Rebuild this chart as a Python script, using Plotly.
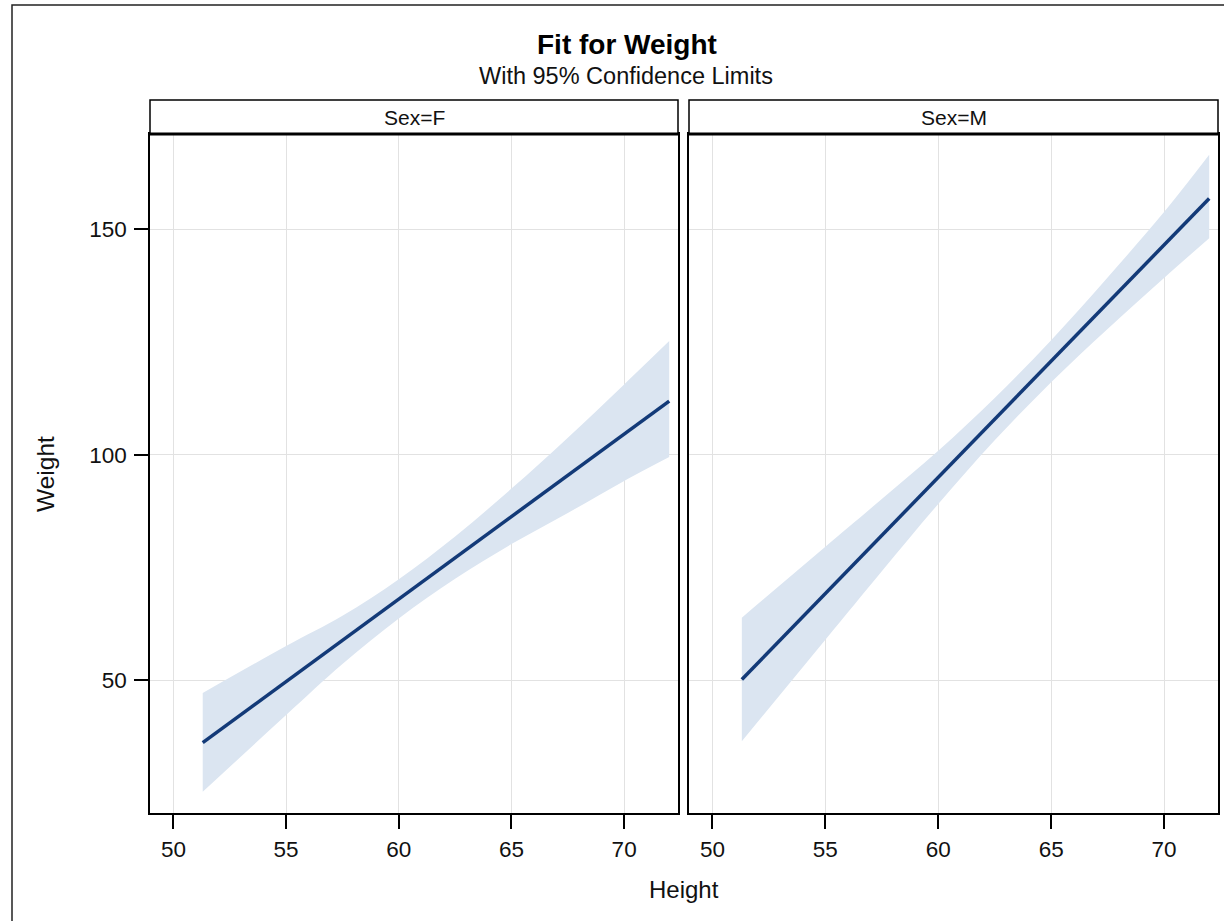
import plotly.graph_objects as go

# ---- data ----
heights = [51.3, 55, 57.5, 60, 62.5, 65, 67.5, 70, 72]

f_fit = [36.2, 49.7, 58.9, 68.0, 77.2, 86.3, 95.4, 104.6, 111.9]
f_lower = [25.3, 42.3, 53.6, 63.7, 72.5, 80.2, 87.1, 94.2, 99.5]
f_upper = [47.2, 57.6, 64.3, 72.4, 81.9, 92.5, 103.8, 115.6, 125.2]

m_fit = [50.2, 69.3, 82.2, 95.0, 107.9, 120.8, 133.6, 146.5, 156.8]
m_lower = [36.5, 59.0, 74.2, 89.1, 103.2, 116.1, 127.9, 139.2, 148.0]
m_upper = [63.9, 79.6, 90.2, 100.9, 112.6, 125.4, 139.3, 153.8, 166.5]

panel_labels = ["Sex=F", "Sex=M"]
x_ticks = [50, 55, 60, 65, 70]
y_ticks = [50, 100, 150]

# ---- layout helpers ----
W, H = 1224, 921
FONT = "Liberation Sans"
TXT = "#111111"
BAND = "#dbe5f1"
LINE = "#133a78"
GRID = "#e2e2e2"


def px(p):
    return p / W


def py(p):
    return 1 - p / H


panels = [
    (150, 678, "x", "y", f_fit, f_lower, f_upper, panel_labels[0]),
    (689, 1218, "x2", "y2", m_fit, m_lower, m_upper, panel_labels[1]),
]
TOP, BOT, HDR = 134, 813, 100

fig = go.Figure()
shapes = []
annotations = []

for left, right, xa, ya, fit, lo, up, lab in panels:
    fig.add_trace(go.Scatter(
        x=heights, y=lo, mode="lines", line=dict(width=0, shape="spline"),
        xaxis=xa, yaxis=ya, showlegend=False, hoverinfo="skip"))
    fig.add_trace(go.Scatter(
        x=heights, y=up, mode="lines", line=dict(width=0, shape="spline"),
        fill="tonexty", fillcolor=BAND,
        xaxis=xa, yaxis=ya, showlegend=False, hoverinfo="skip"))
    fig.add_trace(go.Scatter(
        x=heights, y=fit, mode="lines", line=dict(color=LINE, width=3.5),
        xaxis=xa, yaxis=ya, showlegend=False))
    shapes.append(dict(type="rect", xref="paper", yref="paper",
                       x0=px(left), x1=px(right), y0=py(TOP), y1=py(HDR),
                       line=dict(color="#000", width=1.5), fillcolor="white", layer="above"))
    shapes.append(dict(type="line", xref="paper", yref="paper",
                       x0=px(left), x1=px(right), y0=py(TOP), y1=py(TOP),
                       line=dict(color="#000", width=3), layer="above"))
    annotations.append(dict(text=lab, xref="paper", yref="paper",
                            x=px((left + right) / 2), y=py((HDR + TOP) / 2),
                            xanchor="center", yanchor="middle", showarrow=False,
                            font=dict(family=FONT, size=21, color=TXT)))

# outer frame
shapes.append(dict(type="rect", xref="paper", yref="paper",
                   x0=px(12), x1=1.05, y0=-0.05, y1=py(5),
                   line=dict(color="#222", width=1.5), layer="above"))

annotations += [
    dict(text="<b>Fit for Weight</b>", xref="paper", yref="paper",
         x=px(627), y=py(44), xanchor="center", yanchor="middle", showarrow=False,
         font=dict(family=FONT, size=28, color="#000")),
    dict(text="With 95% Confidence Limits", xref="paper", yref="paper",
         x=px(626), y=py(76), xanchor="center", yanchor="middle", showarrow=False,
         font=dict(family=FONT, size=23.5, color=TXT)),
    dict(text="Height", xref="paper", yref="paper",
         x=px(684), y=py(889), xanchor="center", yanchor="middle", showarrow=False,
         font=dict(family=FONT, size=24, color=TXT)),
    dict(text="Weight", xref="paper", yref="paper", textangle=-90,
         x=px(45), y=py(474), xanchor="center", yanchor="middle", showarrow=False,
         font=dict(family=FONT, size=24.5, color=TXT)),
]

xcommon = dict(range=[48.96, 72.39], tickvals=x_ticks, ticks="outside", ticklen=14,
               tickcolor="#000", tickwidth=1.5, showline=True, linecolor="#000",
               linewidth=1.5, mirror=True, showgrid=True, gridcolor=GRID, gridwidth=1,
               zeroline=False, tickfont=dict(family=FONT, size=22.5, color=TXT),
               ticklabelstandoff=1)
ycommon = dict(range=[20.6, 171.1], tickvals=y_ticks, showline=True, linecolor="#000",
               linewidth=1.5, mirror=True, showgrid=True, gridcolor=GRID, gridwidth=1,
               zeroline=False, domain=[py(BOT), py(TOP)])

fig.update_layout(
    width=W, height=H, margin=dict(l=0, r=0, t=0, b=0),
    paper_bgcolor="white", plot_bgcolor="white",
    xaxis=dict(domain=[px(150), px(678)], anchor="y", **xcommon),
    xaxis2=dict(domain=[px(689), px(1218)], anchor="y2", **xcommon),
    yaxis=dict(anchor="x", ticks="outside", ticklen=14, tickcolor="#000", tickwidth=1.5,
               tickfont=dict(family=FONT, size=22.5, color=TXT), ticklabelstandoff=3,
               **ycommon),
    yaxis2=dict(anchor="x2", matches="y", showticklabels=False, ticks="", **ycommon),
    shapes=shapes, annotations=annotations,
)

fig.write_html("out.html", config={"displayModeBar": False},
               post_script="document.body.style.margin='0';document.body.style.overflow='hidden';")
